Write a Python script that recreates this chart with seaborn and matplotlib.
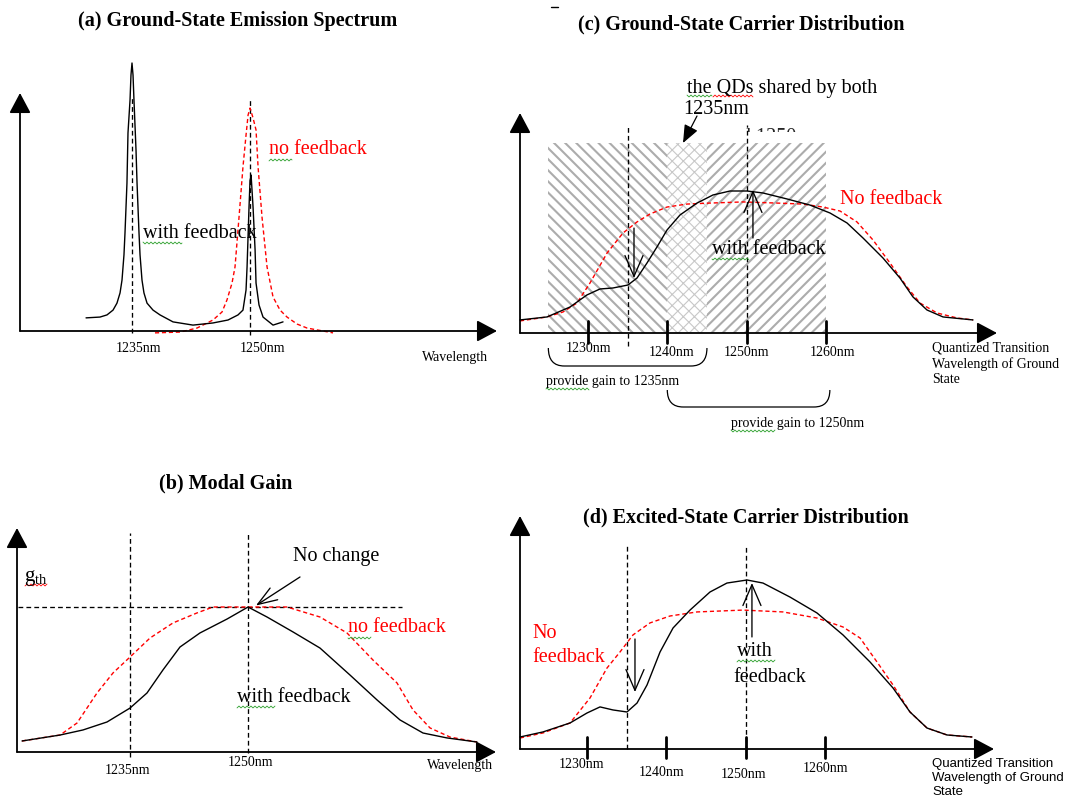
import numpy as np
import matplotlib
matplotlib.use("Agg")
import matplotlib.pyplot as plt
import matplotlib.transforms as mtransforms
from matplotlib.lines import Line2D
from matplotlib.patches import Rectangle, PathPatch, FancyArrowPatch
from matplotlib.path import Path
import seaborn as sns

# ---------------------------------------------------------------- data
# (a) ground-state emission spectrum: wavelength (nm) / intensity (a.u.)
a_fb_nm = [1229.16, 1230.93, 1231.82, 1232.59, 1233.09, 1233.48, 1233.73, 1233.98,
           1234.11, 1234.36, 1234.49, 1234.75, 1234.87, 1235.00, 1235.13, 1235.25,
           1235.51, 1235.64, 1235.89, 1236.02, 1236.27, 1236.52, 1236.91, 1237.67,
           1238.56, 1240.21, 1242.75, 1245.29, 1247.20, 1248.47, 1249.10, 1249.49,
           1249.62, 1249.87, 1250.00, 1250.13, 1250.25, 1250.38, 1250.64, 1250.76,
           1251.14, 1251.65, 1252.92, 1254.19]
a_fb_I = [0.049, 0.052, 0.060, 0.078, 0.104, 0.142, 0.190, 0.284,
          0.366, 0.552, 0.739, 0.862, 0.955, 1.000, 0.955, 0.862,
          0.675, 0.552, 0.366, 0.284, 0.190, 0.142, 0.104, 0.078,
          0.060, 0.034, 0.022, 0.030, 0.041, 0.060, 0.078, 0.153,
          0.239, 0.463, 0.563, 0.582, 0.526, 0.463, 0.302, 0.179,
          0.097, 0.052, 0.022, 0.034]
a_nofb_nm = [1237.92, 1241.10, 1243.26, 1245.29, 1246.44, 1247.07, 1247.71, 1248.09,
             1248.60, 1249.10, 1249.49, 1249.75, 1250.00, 1250.38, 1250.76, 1251.02,
             1251.52, 1252.16, 1252.92, 1253.81, 1254.70, 1255.97, 1257.24, 1260.54]
a_nofb_I = [-0.007, -0.004, 0.011, 0.041, 0.071, 0.116, 0.179, 0.239,
            0.425, 0.612, 0.731, 0.806, 0.832, 0.795, 0.750, 0.612,
            0.425, 0.239, 0.127, 0.078, 0.052, 0.026, 0.011, -0.007]

# (b) modal gain, normalised to the threshold gain g_th
b_fb_nm = [1221.28, 1226.11, 1229.03, 1232.08, 1235.00, 1237.16, 1239.19, 1241.35,
           1243.89, 1247.33, 1250.00, 1252.41, 1255.71, 1259.14, 1262.95, 1266.39,
           1269.31, 1272.23, 1275.28, 1279.09]
b_fb_g = [0.076, 0.117, 0.152, 0.207, 0.303, 0.407, 0.566, 0.724,
          0.821, 0.917, 1.000, 0.931, 0.828, 0.717, 0.531, 0.359,
          0.221, 0.131, 0.097, 0.069]
b_nofb_nm = [1221.28, 1226.11, 1228.27, 1230.81, 1232.84, 1235.00, 1237.54, 1240.46,
             1243.51, 1245.55, 1250.00, 1254.95, 1259.14, 1262.57, 1265.88, 1268.93,
             1270.96, 1273.12, 1275.67, 1279.09]
b_nofb_g = [0.076, 0.117, 0.200, 0.407, 0.545, 0.655, 0.786, 0.890,
            0.959, 1.000, 1.000, 1.000, 0.931, 0.821, 0.634, 0.476,
            0.290, 0.166, 0.103, 0.069]
g_th = 1.0

# (c) ground-state carrier distribution vs transition wavelength
c_fb_nm = [1221.42, 1224.83, 1227.73, 1229.87, 1231.51, 1233.15, 1235.04, 1236.18,
           1237.44, 1238.70, 1239.96, 1241.60, 1243.75, 1245.76, 1247.91, 1250.05,
           1252.07, 1255.09, 1257.99, 1260.52, 1262.66, 1264.68, 1267.20, 1269.34,
           1270.98, 1272.75, 1274.77, 1278.55]
c_fb_n = [0.092, 0.113, 0.183, 0.268, 0.310, 0.317, 0.338, 0.387,
          0.493, 0.606, 0.725, 0.831, 0.915, 0.972, 1.000, 1.000,
          0.986, 0.944, 0.901, 0.845, 0.775, 0.669, 0.528, 0.387,
          0.254, 0.162, 0.113, 0.092]
c_nofb_nm = [1221.42, 1224.83, 1226.85, 1228.61, 1230.25, 1232.40, 1234.41, 1236.18,
             1237.82, 1239.96, 1242.48, 1245.38, 1249.55, 1253.83, 1257.11, 1259.63,
             1261.78, 1263.92, 1265.94, 1268.08, 1270.23, 1271.87, 1274.01, 1276.53,
             1278.55]
c_nofb_n = [0.085, 0.113, 0.148, 0.211, 0.352, 0.563, 0.704, 0.782,
            0.838, 0.887, 0.908, 0.915, 0.923, 0.915, 0.908, 0.887,
            0.859, 0.782, 0.655, 0.493, 0.324, 0.211, 0.141, 0.106,
            0.092]

# (d) excited-state carrier distribution
d_fb_nm = [1221.55, 1224.45, 1227.86, 1230.00, 1231.64, 1233.28, 1235.04, 1236.31,
           1237.57, 1239.21, 1240.85, 1242.99, 1245.51, 1247.65, 1250.18, 1252.19,
           1255.60, 1259.00, 1262.28, 1265.69, 1268.59, 1270.73, 1272.88, 1275.40,
           1278.55]
d_fb_n = [0.071, 0.101, 0.154, 0.213, 0.249, 0.231, 0.219, 0.272,
          0.379, 0.574, 0.716, 0.822, 0.929, 0.982, 1.000, 0.982,
          0.899, 0.805, 0.675, 0.515, 0.361, 0.219, 0.124, 0.083,
          0.071]
d_nofb_nm = [1221.55, 1224.45, 1227.86, 1230.38, 1232.52, 1234.16, 1235.80, 1237.94,
             1240.47, 1243.87, 1249.67, 1254.72, 1259.00, 1262.28, 1264.43, 1266.57,
             1268.59, 1270.73, 1272.88, 1275.40, 1278.55]
d_nofb_n = [0.065, 0.095, 0.154, 0.302, 0.479, 0.574, 0.675, 0.746,
            0.787, 0.811, 0.822, 0.811, 0.775, 0.722, 0.657, 0.515,
            0.379, 0.219, 0.124, 0.083, 0.071]

lasing_nm = [1235, 1250]
scale_ticks_nm = [1230, 1240, 1250, 1260]
gain_1235_band = (1225, 1245)
gain_1250_band = (1240, 1260)

# ---------------------------------------------------------------- figure
sns.set_style("white")
plt.rcParams["font.family"] = ["Liberation Serif", "DejaVu Serif"]
plt.rcParams["mathtext.default"] = "regular"

W, H = 1071, 801
fig = plt.figure(figsize=(W / 100, H / 100), dpi=100)
fig.patch.set_facecolor("white")

# canvas coordinates: pixels measured from the top-left corner
canvas = mtransforms.Affine2D().scale(1 / W, -1 / H).translate(0, 1) + fig.transFigure

RED = "#ff0000"
GREEN = "#2ca02c"
SERIF = ["Liberation Serif", "DejaVu Serif"]
SANS = ["Liberation Sans", "DejaVu Sans"]


def make_panel(box, ref_nm, ref_px, px_per_nm, axis_px, px_per_unit):
    x0, y0, x1, y1 = box
    ax = fig.add_axes([x0 / W, 1 - y1 / H, (x1 - x0) / W, (y1 - y0) / H])
    ax.set_xlim(ref_nm + (x0 - ref_px) / px_per_nm, ref_nm + (x1 - ref_px) / px_per_nm)
    ax.set_ylim((axis_px - y1) / px_per_unit, (axis_px - y0) / px_per_unit)
    ax.set_axis_off()
    ax.patch.set_alpha(0)
    return ax


def curve(ax, nm, val, color, dashed=False):
    sns.lineplot(x=nm, y=val, ax=ax, color=color, lw=1.0, sort=False,
                 estimator=None, linestyle=(0, (3, 2)) if dashed else "-",
                 zorder=5, clip_on=False)


def guide(ax, xs, ys, lw=0.95):
    ax.plot(xs, ys, color="black", lw=lw, linestyle=(0, (3.6, 2.4)),
            zorder=4, clip_on=False)


def frame_arrows(origin, xtip, ytip):
    for tip in (xtip, ytip):
        fig.add_artist(FancyArrowPatch(
            posA=origin, posB=tip, transform=canvas,
            arrowstyle="-|>,head_length=0.62,head_width=0.33",
            mutation_scale=20, lw=1.3, color="black",
            shrinkA=0, shrinkB=0, zorder=6))


def open_arrow(ax, start, tip, hl=1.5, hw=0.65):
    ax.annotate("", xy=tip, xytext=start,
                arrowprops=dict(arrowstyle=f"->,head_length={hl},head_width={hw}",
                                mutation_scale=10, lw=0.95, color="black",
                                shrinkA=0, shrinkB=0),
                zorder=6, annotation_clip=False)


def label(x, y, s, size=14.5, color="black", ha="left", family=None, **kw):
    fig.text(x, y, s, transform=canvas, fontsize=size, color=color, ha=ha,
             va="center", family=family or SERIF, zorder=7, **kw)


def title(x, y, s):
    label(x, y, s, size=14.5, ha="center", fontweight="bold")


def squiggle(x0, x1, y, color):
    xs = np.arange(x0, x1 + 0.01, 0.5)
    ys = y + 0.9 * np.sin(xs * np.pi / 2.0)
    fig.add_artist(Line2D(xs, ys, transform=canvas, color=color, lw=0.6, zorder=7))


def brace(ax, lo, hi, y_top, y_bot, r=2.0):
    tr = mtransforms.blended_transform_factory(ax.transData, canvas)
    verts = [(lo, y_top), (lo, y_bot), (lo + r, y_bot),
             (hi - r, y_bot), (hi, y_bot), (hi, y_top)]
    codes = [Path.MOVETO, Path.CURVE3, Path.CURVE3,
             Path.LINETO, Path.CURVE3, Path.CURVE3]
    ax.add_patch(PathPatch(Path(verts, codes), transform=tr, fill=False,
                           lw=0.9, ec="black", clip_on=False, zorder=5))


def band(ax, lo, hi, top, hatch, color, hlw):
    with plt.rc_context({"hatch.linewidth": hlw}):
        r = Rectangle((lo, 0), hi - lo, top, facecolor="white", edgecolor=color,
                      lw=0, hatch=hatch, zorder=1, clip_on=False)
    if hasattr(r, "set_hatch_linewidth"):
        r.set_hatch_linewidth(hlw)
    ax.add_patch(r)


# ============================================================ (a)
axA = make_panel((0, 40, 515, 400), 1235, 132, 7.87, 331, 268)
frame_arrows((20, 331), (497, 331), (20, 93))
curve(axA, a_nofb_nm, a_nofb_I, RED, dashed=True)
curve(axA, a_fb_nm, a_fb_I, "black")
guide(axA, [lasing_nm[0]] * 2, [-0.007, 0.873])
guide(axA, [lasing_nm[1]] * 2, [-0.015, 0.866])
title(238, 21, "(a) Ground-State Emission Spectrum")
label(138, 349, f"{lasing_nm[0]}nm", size=10, ha="center")
label(262, 349, f"{lasing_nm[1]}nm", size=10, ha="center")
label(455, 357, "Wavelength", size=10, ha="center")
label(143, 233, "with feedback")
label(269, 150, "no feedback", color=RED)
squiggle(143, 182, 243, GREEN)
squiggle(269, 292, 160, GREEN)

# ============================================================ (b)
axB = make_panel((0, 500, 515, 800), 1235, 130, 7.87, 752, 145)
frame_arrows((17, 752), (496, 752), (17, 528))
guide(axB, [1220.77, 1269.56], [g_th, g_th])
guide(axB, [lasing_nm[0]] * 2, [-0.034, 1.51])
guide(axB, [lasing_nm[1]] * 2, [-0.007, 1.51])
curve(axB, b_nofb_nm, b_nofb_g, RED, dashed=True)
curve(axB, b_fb_nm, b_fb_g, "black")
open_arrow(axB, (1256.6, 1.207), (1251.0, 1.01), hl=1.4, hw=0.5)
title(226, 483, "(b) Modal Gain")
label(127, 770, f"{lasing_nm[0]}nm", size=10, ha="center")
label(250, 762, f"{lasing_nm[1]}nm", size=10, ha="center")
label(460, 765, "Wavelength", size=10, ha="center")
label(24, 578, r"$\mathregular{g_{th}}$", size=15)
label(293, 557, "No change")
label(348, 628, "no feedback", color=RED)
label(237, 697, "with feedback")
squiggle(25, 47, 585, RED)
squiggle(348, 371, 638, GREEN)
squiggle(237, 275, 707, GREEN)

# ============================================================ (c)
axC = make_panel((515, 100, 1071, 420), 1230, 588, 7.93, 333, 142)
band(axC, gain_1235_band[0], gain_1250_band[0], 1.338, "\\" * 3, "#acacac", 1.5)
band(axC, gain_1250_band[0], gain_1235_band[1], 1.338, "x" * 3, "#c8c8c8", 0.8)
band(axC, gain_1235_band[1], gain_1250_band[1], 1.338, "/" * 3, "#acacac", 1.5)
frame_arrows((520, 333), (997, 333), (520, 113))
for t in scale_ticks_nm:
    axC.plot([t, t], [-0.070, 0.085], color="black", lw=2.0, zorder=6, clip_on=False)
guide(axC, [lasing_nm[0]] * 2, [-0.092, 1.451])
guide(axC, [lasing_nm[1]] * 2, [0.0, 1.465])
curve(axC, c_nofb_nm, c_nofb_n, RED, dashed=True)
curve(axC, c_fb_nm, c_fb_n, "black")
open_arrow(axC, (1235.8, 0.739), (1235.8, 0.387))
open_arrow(axC, (1250.8, 0.669), (1250.8, 1.007))
brace(axC, gain_1235_band[0], gain_1235_band[1], 348, 366)
brace(axC, gain_1250_band[0], gain_1250_band[1] + 0.5, 390, 407)
fig.add_artist(Line2D([551, 558], [7, 7], transform=canvas, color="black", lw=1.0))
title(741, 24, "(c) Ground-State Carrier Distribution")
for t, cx, cy in zip(scale_ticks_nm, [588, 672, 746, 832], [349, 353, 353, 353]):
    label(cx, cy, f"{t}nm", size=10, ha="center")
label(932, 364, "Quantized Transition\nWavelength of Ground\nState", size=10,
      linespacing=1.25)
label(687, 88, "the QDs shared by both")
label(683, 110, "1235nm")
hidden = fig.text(722, 141.5, "and 1250nm", transform=canvas, fontsize=14.5,
                  family=SERIF, ha="left", va="baseline", zorder=7)
hidden.set_clip_box(mtransforms.TransformedBbox(
    mtransforms.Bbox([[700, 120], [900, 132]]), canvas))
hidden.set_clip_on(True)
fig.add_artist(FancyArrowPatch(
    posA=(697, 116), posB=(683, 143), transform=canvas,
    arrowstyle="-|>,head_length=1.1,head_width=0.45", mutation_scale=10,
    lw=0.9, color="black", shrinkA=0, shrinkB=0, zorder=7))
label(840, 199, "No feedback", color=RED)
label(712, 250, "with feedback")
label(546, 382, f"provide gain to {lasing_nm[0]}nm", size=10)
label(731, 423, f"provide gain to {lasing_nm[1]}nm", size=10)
squiggle(687, 712, 96, GREEN)
squiggle(713, 753, 96, RED)
squiggle(712, 749, 259, GREEN)
squiggle(546, 589, 389, GREEN)
squiggle(731, 775, 431, GREEN)

# ============================================================ (d)
axD = make_panel((515, 530, 1071, 800), 1230, 587, 7.93, 749, 169)
frame_arrows((520, 749), (994, 749), (520, 516))
for t in scale_ticks_nm:
    axD.plot([t, t], [-0.053, 0.071], color="black", lw=2.0, zorder=6, clip_on=False)
guide(axD, [lasing_nm[0]] * 2, [0.0, 1.207])
guide(axD, [lasing_nm[1]] * 2, [-0.053, 1.195])
curve(axD, d_nofb_nm, d_nofb_n, RED, dashed=True)
curve(axD, d_fb_nm, d_fb_n, "black")
open_arrow(axD, (1236.05, 0.651), (1236.05, 0.337))
open_arrow(axD, (1250.8, 0.663), (1250.8, 0.982))
title(746, 517, "(d) Excited-State Carrier Distribution")
for t, cx, cy in zip(scale_ticks_nm, [581, 662, 743, 825], [765, 772, 774, 769]):
    label(cx, cy, f"{t}nm", size=10, ha="center")
label(932, 778, "Quantized Transition\nWavelength of Ground\nState", size=9.5,
      family=SANS, linespacing=1.2)
label(532, 633, "No", color=RED)
label(532, 658, "feedback", color=RED)
label(737, 652, "with")
label(733, 677, "feedback")
squiggle(737, 775, 661, GREEN)

fig.savefig("out.png", dpi=100, facecolor="white")
